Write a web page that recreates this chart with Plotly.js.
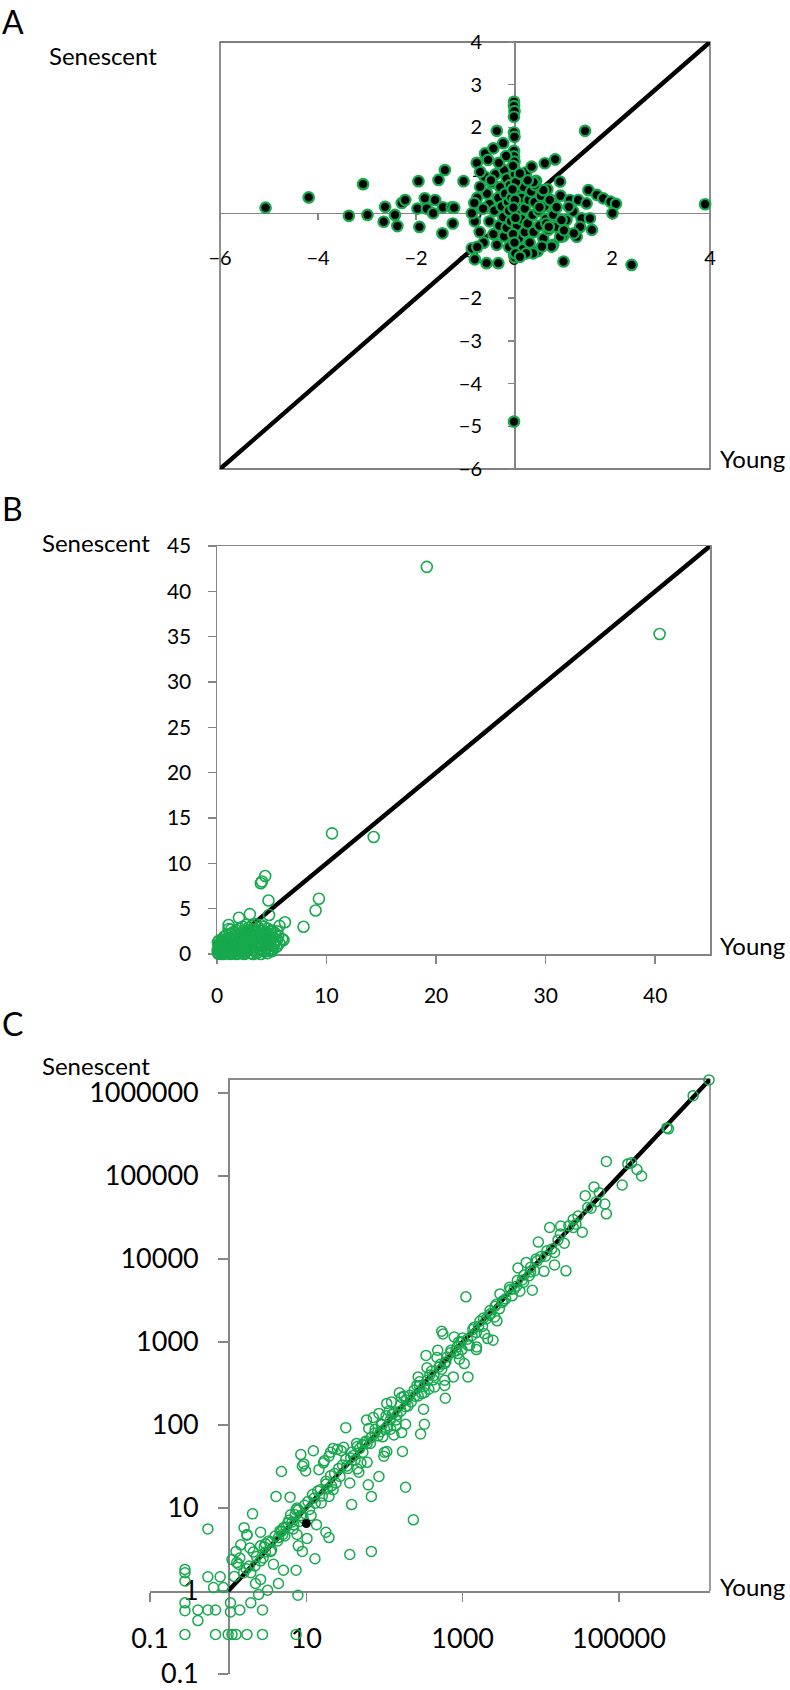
<!DOCTYPE html>
<html><head><meta charset="utf-8">
<script src="https://cdn.plot.ly/plotly-3.0.1.min.js"></script>
<style>html,body{margin:0;padding:0;background:#fff;} #chart{width:790px;height:1690px;}</style>
</head><body><div id="chart"></div>
<script>
// ---------------- DATA ----------------
// Panel A: [Young, Senescent]
const aColumnPoints = [[0.0,2.6],[0.0,2.5],[0.01,2.38],[0.0,2.25],[0.0,1.88],[0.01,1.78],[0.0,1.45],[0.0,1.32],[0.01,1.2],[0.0,1.05],[0.0,0.95],[0.01,0.85],[0.0,0.78],[0.0,0.68],[0.01,0.6],[0.0,0.52],[0.0,0.44],[0.01,0.36],[0.0,0.28],[0.0,0.2],[0.0,0.1],[0.0,0.02],[0.0,-0.08],[0.01,-0.18],[0.0,-0.28],[0.0,-0.4],[0.0,-0.52],[0.0,-0.64],[0.0,-0.76],[0.0,-0.88],[0.0,-0.98],[0.02,-1.04],[0.0,-4.89]];
const aClusterPoints = [[-0.55,0.45],[-0.5,0.2],[-0.5,-0.2],[-0.45,0.7],[-0.42,-0.5],[-0.4,0.05],[-0.38,0.9],[-0.35,-0.75],[-0.32,0.35],[-0.3,-0.3],[-0.28,0.6],[-0.25,0.15],[-0.22,-0.1],[-0.2,1.0],[-0.2,-0.55],[-0.18,0.45],[-0.15,0.8],[-0.15,-0.35],[-0.12,0.25],[-0.1,0.05],[-0.1,-0.8],[-0.08,0.65],[-0.06,-0.2],[-0.05,0.35],[0.05,0.2],[0.06,-0.3],[0.08,0.5],[0.1,-0.6],[0.12,0.0],[0.12,0.8],[0.15,-0.15],[0.15,0.35],[0.18,-0.85],[0.2,0.6],[0.22,-0.45],[0.22,0.1],[0.25,0.95],[0.28,-0.25],[0.3,0.3],[0.32,-0.7],[0.35,0.5],[0.38,-0.05],[0.4,-0.45],[0.42,0.25],[0.45,0.75],[0.48,-0.9],[0.5,0.05],[0.52,-0.3],[0.55,0.4],[0.6,-0.6],[0.62,0.15],[0.65,-0.15],[0.68,0.55],[0.7,-0.4],[0.75,0.3],[0.8,-0.75],[0.85,0.1],[0.9,-0.25],[0.95,0.4],[1.0,-0.55],[-0.65,0.1],[-0.7,-0.45],[-0.6,0.85],[-0.75,0.35],[-0.62,-0.7],[-0.8,-0.2],[0.02,0.9],[0.03,-0.95],[-0.02,1.1],[0.04,0.72],[-0.03,0.55],[0.02,0.3],[-0.01,0.12],[0.03,-0.12],[-0.02,-0.5],[0.01,-0.7]];
const aOutlierPoints = [[-5.07,0.12],[-4.19,0.36],[-3.08,0.67],[-3.37,-0.07],[-2.99,-0.05],[-2.63,0.14],[-2.66,-0.21],[-2.38,-0.31],[-2.43,-0.05],[-2.29,0.23],[-2.22,0.30],[-1.95,0.74],[-1.97,0.10],[-1.93,-0.33],[-1.82,0.34],[-1.78,0.10],[-1.65,-0.01],[-1.61,0.30],[-1.54,0.77],[-1.45,0.13],[-1.41,1.00],[-1.46,-0.48],[-1.27,0.13],[-1.25,-0.25],[-1.22,0.12],[-1.03,0.74],[-0.86,-0.01],[-0.86,-0.83],[-0.81,0.23],[-0.80,-1.09],[-0.76,1.17],[-0.75,-0.80],[-0.69,0.96],[-0.69,0.61],[-0.63,0.10],[-0.59,1.39],[-0.56,-1.18],[-0.53,1.24],[-0.47,0.76],[-0.42,1.51],[-0.35,1.92],[-0.32,-1.18],[-0.31,1.17],[-0.22,1.63],[-0.16,1.33],[0.36,1.08],[0.63,1.16],[0.84,1.25],[1.45,1.92],[0.94,0.73],[1.52,0.53],[1.69,0.42],[1.82,0.34],[1.97,0.26],[2.08,0.21],[2.01,-0.01],[1.01,-1.14],[2.40,-1.22],[1.14,0.30],[1.31,0.30],[1.48,0.22],[1.21,0.03],[1.38,-0.13],[1.55,-0.13],[1.35,-0.33],[1.59,-0.40],[1.28,-0.56],[0.87,-0.33],[1.07,-0.17],[0.94,-0.56],[0.77,-0.79],[0.57,-0.79],[0.39,-0.95],[0.25,-0.95],[0.12,-1.03],[0.60,0.53],[0.43,0.65],[0.52,0.13],[0.73,0.30],[0.80,-0.05],[0.87,0.13],[0.66,-0.25],[3.90,0.20],[1.12,0.14],[1.02,-0.41],[1.22,-0.48],[0.71,-0.33],[0.97,-0.17],[0.40,0.72],[0.28,0.76],[0.12,0.92]];
const aDiagonal = [-6, 4];
const aTicks = [-6,-4,-2,0,2,4];
const aYTicks = [-6,-5,-4,-3,-2,-1,0,1,2,3,4];

// Panel B: [Young, Senescent]
const bClusterPoints = [[0.1,0.05],[0.2,0.3],[0.3,0.1],[0.15,0.6],[0.25,0.9],[0.35,1.3],[0.4,0.5],[0.5,0.2],[0.55,0.8],[0.6,1.1],[0.7,0.4],[0.75,0.05],[0.8,0.7],[0.9,1.0],[0.95,0.3],[1.0,1.4],[1.05,0.6],[1.1,0.15],[1.2,0.9],[1.25,1.7],[1.3,0.4],[1.35,1.2],[1.4,0.05],[1.5,0.7],[1.55,1.5],[1.6,1.0],[1.65,0.3],[1.7,2.0],[1.8,1.3],[1.85,0.6],[1.9,0.1],[2.0,1.8],[2.05,0.9],[2.1,1.4],[2.15,0.4],[2.2,2.3],[2.3,1.1],[2.35,0.05],[2.4,1.7],[2.45,0.7],[2.5,2.6],[2.55,1.3],[2.6,0.3],[2.7,2.0],[2.75,0.9],[2.8,1.6],[2.85,2.9],[2.9,0.5],[2.95,1.2],[3.0,2.4],[3.05,0.1],[3.1,1.9],[3.15,0.8],[3.2,3.1],[3.25,1.5],[3.3,2.7],[3.35,0.4],[3.4,2.1],[3.45,1.1],[3.5,3.3],[3.55,0.7],[3.6,1.8],[3.65,2.5],[3.7,0.2],[3.75,1.4],[3.8,2.9],[3.85,1.0],[3.9,2.2],[3.95,0.5],[4.0,3.2],[4.05,1.6],[4.1,2.6],[4.15,0.9],[4.2,2.0],[4.25,0.3],[4.3,3.0],[4.35,1.3],[4.4,2.4],[4.45,0.7],[4.5,1.9],[4.6,2.8],[4.65,1.1],[4.7,0.4],[4.8,2.2],[4.85,1.5],[4.9,0.9],[5.0,2.6],[5.1,1.8],[5.2,1.2],[5.3,2.3],[5.4,0.8],[5.5,1.6],[5.6,2.0],[5.7,1.2],[0.05,0.4],[0.12,1.0],[0.08,1.3],[0.2,1.5],[0.45,1.6],[0.65,1.9],[0.85,2.1],[1.15,2.2],[1.45,2.4],[1.75,2.6],[2.05,2.8],[2.35,3.0],[2.65,3.2],[1.3,2.7],[0.3,0.0],[0.6,0.0],[1.2,0.0],[1.8,0.0],[2.5,0.0],[3.3,0.0],[4.0,0.0],[4.6,0.1],[0.15,0.2],[0.35,0.7],[0.5,1.2],[0.7,1.5],[0.9,0.5],[1.1,1.8],[1.3,1.0],[1.5,1.9],[1.7,0.8],[1.9,2.2],[2.1,1.1],[2.3,2.0],[2.5,1.5],[2.7,2.5],[2.9,1.8],[3.1,2.7],[3.3,1.4],[3.5,2.4],[3.7,1.0],[3.9,2.6],[4.1,1.3],[4.3,2.2],[4.5,1.1],[4.7,1.7],[4.9,2.4],[5.1,0.6],[5.3,1.4],[5.5,2.5],[2.2,0.2],[3.6,0.1],[4.4,0.3],[5.0,0.3]];
const bOutlierPoints = [[19.15,42.7],[40.4,35.3],[10.5,13.3],[14.3,12.9],[9.3,6.1],[9.0,4.8],[7.9,3.0],[4.4,8.6],[4.0,7.8],[4.1,8.0],[4.7,5.9],[3.0,4.4],[2.0,4.0],[1.06,3.2],[1.06,2.75],[4.75,4.3],[6.2,3.5],[5.7,3.1],[5.95,1.65],[5.2,1.0],[5.46,0.81],[6.07,1.54]];
const bDiagonal = [0, 45];
const bXTicks = [0,10,20,30,40];
const bYTicks = [0,5,10,15,20,25,30,35,40,45];

// Panel C (log scales): [Young, Senescent]
const cUpperPoints = [[1.42e6,1.44e6],[8.9e5,9.3e5],[4.3e5,3.7e5],[4.1e5,3.8e5],[6.9e4,1.5e5],[1.45e5,1.45e5],[1.7e5,1.2e5],[1.95e5,1.0e5],[1.1e5,7.8e4],[4.8e4,7.4e4],[3.7e4,5.8e4],[5.1e4,4.9e4],[6.6e4,4.6e4],[6.9e4,3.5e4],[2.6e4,3.0e4],[2.6e4,2.4e4],[3.4e4,2.1e4],[1.8e4,2.5e4],[1.3e4,2.4e4],[1.66e4,1.7e4],[2.0e4,1.55e4],[9.3e3,1.6e4],[1.5e4,1.2e4],[1.1e4,7.1e3],[8.7e3,1.0e4],[5.1e3,7.8e3],[6.5e3,9.1e3],[7.8e3,4.2e3],[2.1e4,7.2e3],[1.5e4,8.5e3],[7.1e3,6.3e3],[5.8e3,5.6e3],[5.4e3,4.1e3],[4.3e3,3.6e3],[1.1e3,3.5e3],[3.0e3,3.8e3],[3.2e3,3.0e3],[2.6e3,2.7e3],[2.3e3,2.2e3],[2.75e3,1.8e3],[2.45e3,1.05e3],[1.8e3,1.55e3],[1.5e3,1.3e3],[1.23e3,910],[850,870],[540,1350],[560,1250],[780,1150],[980,810],[910,620],[1170,380],[1500,810],[470,650],[540,470],[340,690],[350,490],[420,350],[590,300],[600,210],[370,270],[300,240],[260,300],[220,190],[165,215],[316,155],[155,245],[123,190],[107,182],[115,148],[141,115],[186,102],[290,78],[324,102],[166,81],[132,76],[91,102],[85,138],[72,123],[59,115],[63,91],[68,71],[56,62],[45,55],[32,93],[38,47],[32,39],[28,49],[22,52],[19.5,42],[16.6,35],[14.5,29],[12.3,49],[8.5,44],[8.9,32],[4.8,27.5],[107,48],[170,48],[85,24],[98,42],[50,35],[47,27],[36,20],[62,19],[68,13.8],[38,11],[22,16.6],[19.5,13.8],[15.5,11.5],[11.5,8.1],[17.8,5.1],[19.5,4.4],[12.9,2.45],[36,2.75],[68,3.0],[186,17.8],[234,7.2]];
const cLowerPoints = [[4.1,13.8],[6.2,13.5],[7.4,9.5],[8.5,8.1],[6.6,6.8],[5.5,5.9],[4.8,5.2],[4.4,4.4],[3.5,3.9],[3.0,2.95],[2.6,3.5],[2.1,2.95],[2.05,8.5],[1.6,5.8],[1.74,4.7],[1.45,3.6],[1.26,3.0],[1.12,2.4],[1.35,2.1],[1.7,1.86],[1.95,1.66],[2.24,1.23],[2.6,1.38],[3.2,1.02],[4.4,1.23],[7.4,1.78],[0.55,5.6],[7.9,3.5],[10.2,4.3],[13.5,6.3],[3.8,2.1],[5.1,1.78],[0.28,1.82],[0.28,1.66],[0.28,1.32],[0.55,1.48],[0.79,1.48],[0.65,1.1],[0.87,1.1],[0.28,0.72],[0.28,0.58],[0.41,0.59],[0.55,0.59],[0.69,0.59],[0.41,0.44],[1.07,0.72],[1.41,0.59],[1.95,0.72],[2.45,0.91],[2.75,0.59],[7.8,0.89],[1.07,0.56],[0.28,0.3],[0.69,0.3],[1.0,0.3],[1.12,0.3],[1.26,0.3],[1.74,0.3],[2.75,0.3],[7.4,0.3]];
const cBandPoints = [[9.3,34],[9.8,28],[17,37],[20.4,47],[25,51],[30,54],[20.4,24.5],[18.6,17],[45,29.5],[60,35.5],[100,47],[120,89],[141,98],[105,129],[95,72],[60,60],[44,60],[7.6,10],[6.3,8.3],[5.1,5.8],[4.3,4.0],[3.5,3.0],[2.6,2.3],[1.9,3.3],[1.41,2.5],[1.29,2.2],[1.74,4.8],[2.6,5.1],[3.0,3.7],[7.6,4.8],[8.9,3.0],[6.9,6.3],[480,795],[590,550],[870,725],[1175,910],[1900,1260],[2570,2000],[2950,2510],[2090,1100],[1510,870],[1050,550],[760,380],[590,347],[437,288],[270,224],[200,170],[162,148],[120,117],[100,89],[178,224],[270,380],[355,347],[500,500],[324,245],[3550,3310],[3980,4570],[4570,4365],[5010,5500],[6030,5250],[7410,7940],[8320,7240],[1e4,1.07e4],[1.2e4,1.26e4],[1.38e4,1.32e4],[1.78e4,2.0e4],[2.29e4,2.51e4],[2.82e4,2.63e4],[3.98e4,4.17e4],[5.6e4,6.3e4],[2240,2400],[2000,1900],[1660,1780],[1410,1510],[1320,1200],[1000,1120],[890,1000],[710,795],[630,660],[400,447],[282,331],[240,263],[190,200],[132,141],[89,83],[76,89],[52,58],[40,43],[33,32],[26,30],[24,20],[17.8,21],[15.1,16.6],[12.6,13.2],[10.5,12],[9.1,7.6],[7.9,9.5],[5.8,6.6],[5,4.8],[4,4.6],[3.3,4.0],[2.8,2.5],[2.3,2.6],[1.86,2.0],[1.58,1.66],[1.2,1.5],[2.2,2.0],[2.9,3.4],[3.6,3.1],[4.6,5.3],[5.3,4.6],[6.0,7.1],[6.8,5.6],[7.2,8.3],[8.1,6.9],[9.5,10.8],[11,9.6],[12,14.5],[13,11.4],[14,16],[16,14],[18,19.5],[21,18.5],[23,26],[27,24],[29,33],[34,30],[37,40],[42,38],[48,52],[53,47],[58,64],[66,60],[75,80],[83,74],[92,101],[110,98],[125,134],[145,132],[160,176],[185,166],[210,228],[245,222],[280,300],[320,292],[380,400],[430,395],[520,540],[610,580],[700,740],[820,780],[950,1010],[1150,1080],[1350,1420],[1600,1550],[1850,1950],[2200,2100],[2700,2850],[3300,3150],[4100,4300],[4900,4700],[6100,6400],[7400,7000],[9000,9500],[1.15e4,1.08e4],[3.0e4,3.3e4],[4.4e4,4.1e4],[1.3e5,1.4e5]];
const cHighlightPoint = [[10, 6.5]];
const cDiagonal = [1, 1.45e6];
const cYTickVals = [0.1,1,10,100,1000,10000,100000,1000000];
const cYTickText = ['0.1','1','10','100','1000','10000','100000','1000000'];
const cXTickVals = [0.1,10,1000,100000];
const cXTickText = ['0.1','10','1000','100000'];

// ---------------- LAYOUT HELPERS ----------------
const W = 790, H = 1690;
const FONT = 'Lato, "Open Sans", sans-serif';
const GREEN = '#17a94d';
const AXIS = '#868686';
const xs = pts => pts.map(p => p[0]);
const ys = pts => pts.map(p => p[1]);
const xd = (l, r) => [l / W, r / W];
const yd = (t, b) => [1 - b / H, 1 - t / H];

const domAx = xd(220, 710), domAy = yd(42, 469);
const domBx = xd(217, 710), domBy = yd(546, 954);
const domCx = xd(150, 710), domCy = yd(1079, 1674);
const rangeA = [-6, 4], rangeB = [0, 45];
const rangeCx = [-1, 6.165], rangeCy = [-1, 6.169];
const frac = (v, r) => (v - r[0]) / (r[1] - r[0]);
const lerp = (d, f) => d[0] + f * (d[1] - d[0]);

// ---------------- TRACES ----------------
const aAll = aColumnPoints.concat(aClusterPoints, aOutlierPoints);
const bAll = bClusterPoints.concat(bOutlierPoints);
const cAll = cUpperPoints.concat(cLowerPoints, cBandPoints);
const traces = [
  {x: aDiagonal, y: aDiagonal, xaxis: 'x', yaxis: 'y', mode: 'lines', line: {color: '#000', width: 4.5}, hoverinfo: 'skip'},
  {x: xs(aAll), y: ys(aAll), xaxis: 'x', yaxis: 'y', mode: 'markers', cliponaxis: false,
   marker: {symbol: 'circle', size: 10.5, color: '#000', line: {color: GREEN, width: 2.2}}},
  {x: bDiagonal, y: bDiagonal, xaxis: 'x2', yaxis: 'y2', mode: 'lines', line: {color: '#000', width: 4.5}, hoverinfo: 'skip'},
  {x: xs(bAll), y: ys(bAll), xaxis: 'x2', yaxis: 'y2', mode: 'markers', cliponaxis: false,
   marker: {symbol: 'circle-open', size: 11, color: GREEN, line: {color: GREEN, width: 1.6}}},
  {x: cDiagonal, y: cDiagonal, xaxis: 'x3', yaxis: 'y3', mode: 'lines', line: {color: '#000', width: 4.5}, hoverinfo: 'skip'},
  {x: xs(cAll), y: ys(cAll), xaxis: 'x3', yaxis: 'y3', mode: 'markers', cliponaxis: false,
   marker: {symbol: 'circle-open', size: 10, color: GREEN, line: {color: GREEN, width: 1.5}}},
  {x: xs(cHighlightPoint), y: ys(cHighlightPoint), xaxis: 'x3', yaxis: 'y3', mode: 'markers', cliponaxis: false,
   marker: {symbol: 'circle', size: 9, color: '#000'}}
];

const tickFont = s => ({family: FONT, size: s, color: '#000'});
const baseAxis = {showgrid: false, zeroline: false, showline: true, linecolor: AXIS, linewidth: 1.5,
  ticks: 'outside', tickcolor: AXIS, tickwidth: 1.5, layer: 'below traces', automargin: false,
  fixedrange: true, ticklabeloverflow: 'allow'};

const layout = {
  width: W, height: H, margin: {l: 0, r: 0, t: 0, b: 0},
  paper_bgcolor: '#fff', plot_bgcolor: 'rgba(0,0,0,0)', showlegend: false,
  xaxis: Object.assign({}, baseAxis, {domain: domAx, range: rangeA, anchor: 'free',
    position: lerp(domAy, frac(0, rangeA)), tickvals: aTicks, ticklen: 6, tickfont: tickFont(20), ticklabelstandoff: 21}),
  yaxis: Object.assign({}, baseAxis, {domain: domAy, range: rangeA, anchor: 'free',
    position: lerp(domAx, frac(0, rangeA)), tickvals: aYTicks, ticklen: 6, tickfont: tickFont(20), ticklabelstandoff: 22}),
  xaxis2: Object.assign({}, baseAxis, {domain: domBx, range: rangeB, anchor: 'y2', mirror: true,
    tickvals: bXTicks, ticklen: 8, tickfont: tickFont(21), ticklabelstandoff: 14}),
  yaxis2: Object.assign({}, baseAxis, {domain: domBy, range: rangeB, anchor: 'x2', mirror: true,
    tickvals: bYTicks, ticklen: 8, tickfont: tickFont(21), ticklabelstandoff: 12}),
  xaxis3: Object.assign({}, baseAxis, {type: 'log', domain: domCx, range: rangeCx, anchor: 'free',
    position: lerp(domCy, frac(0, rangeCy)), tickvals: cXTickVals, ticktext: cXTickText, ticklen: 9, tickfont: tickFont(27), ticklabelstandoff: 14}),
  yaxis3: Object.assign({}, baseAxis, {type: 'log', domain: domCy, range: rangeCy, anchor: 'free',
    position: lerp(domCx, frac(0, rangeCx)), tickvals: cYTickVals, ticktext: cYTickText, ticklen: 10, tickfont: tickFont(27), ticklabelstandoff: 14}),
  shapes: [
    {type: 'rect', xref: 'x domain', yref: 'y domain', x0: 0, x1: 1, y0: 0, y1: 1, line: {color: '#555', width: 1.3}, layer: 'below'},
    {type: 'line', xref: 'x3 domain', yref: 'y3 domain', x0: frac(0, rangeCx), x1: 1, y0: 1, y1: 1, line: {color: '#666', width: 1.3}, layer: 'below'},
    {type: 'line', xref: 'x3 domain', yref: 'y3 domain', x0: 1, x1: 1, y0: frac(0, rangeCy), y1: 1, line: {color: '#666', width: 1.3}, layer: 'below'}
  ],
  annotations: []
};

function label(text, px, py, size, xanchor) {
  layout.annotations.push({text: text, x: px / W, y: 1 - py / H, xref: 'paper', yref: 'paper',
    xanchor: xanchor || 'left', yanchor: 'middle', showarrow: false, borderpad: 0,
    font: {family: FONT, size: size, color: '#000'}});
}
label('A', 1, 21, 32);
label('B', 1, 508, 32);
label('C', 1, 1023, 32);
label('Senescent', 48, 55, 24);
label('Senescent', 41, 542, 24);
label('Senescent', 41, 1065, 24);
label('Young', 719, 458, 24);
label('Young', 719, 945, 24);
label('Young', 719, 1586, 24);

Plotly.newPlot('chart', traces, layout, {staticPlot: true, displayModeBar: false});
</script>
</body></html>
